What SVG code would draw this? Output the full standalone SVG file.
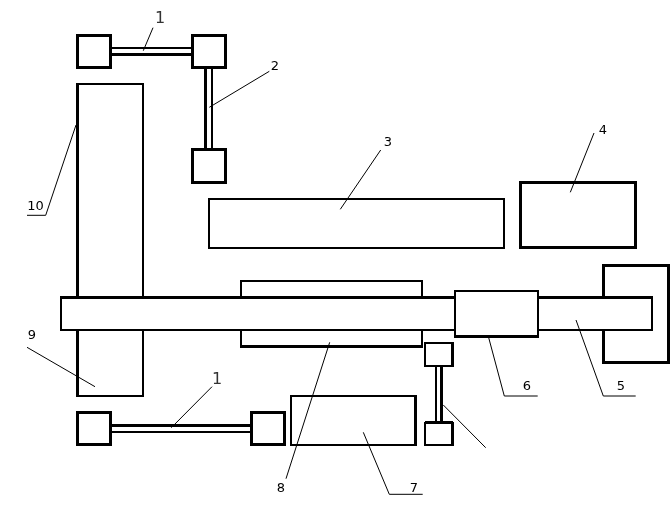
<svg xmlns="http://www.w3.org/2000/svg" width="672" height="519" viewBox="0 0 672 519">
<style>
rect{fill:#fff;stroke:#000;stroke-width:2;shape-rendering:crispEdges}
rect.t{stroke-width:3}
.e{stroke:#000;stroke-width:3;fill:none;shape-rendering:crispEdges}
.s{stroke:#000;stroke-width:2;fill:none;shape-rendering:crispEdges}
.l{stroke:#000;stroke-width:1;fill:none}
#labels{filter:url(#gray)}
text{font-family:"DejaVu Sans",sans-serif;font-size:13px;fill:#000;text-anchor:middle}
text.b{font-size:16px;fill:#333}
</style>
<defs><filter id="gray" x="0" y="0" width="672" height="519" filterUnits="userSpaceOnUse" color-interpolation-filters="sRGB"><feOffset dx="0" dy="0"/></filter></defs>
<rect width="672" height="519" style="stroke:none"/>
<g id="shaft-top"><path class="s" d="M111 48H191"/><path class="e" d="M111 54.500H191"/></g>
<g id="shaft-2"><path class="e" d="M205.500 68V149"/><path class="s" d="M211.500 68V149"/></g>
<g id="shaft-bottom"><path class="e" d="M111 425.500H251"/><path class="s" d="M111 432H251"/></g>
<g id="shaft-right"><path class="s" d="M436 366V423"/><path class="e" d="M441.500 366V423"/></g>
<g id="wheel-a"><rect class="t" x="77.500" y="35.500" width="33" height="32"/></g>
<g id="wheel-b"><rect class="t" x="192.500" y="35.500" width="33" height="32"/></g>
<g id="wheel-c"><rect class="t" x="192.500" y="149.500" width="33" height="33"/></g>
<g id="wheel-d"><rect class="t" x="77.500" y="412.500" width="33" height="32"/></g>
<g id="wheel-e"><rect class="t" x="251.500" y="412.500" width="33" height="32"/></g>
<g id="wheel-f"><rect x="425" y="343" width="28" height="23"/><path class="e" d="M452.500 343V366"/></g>
<g id="wheel-g"><rect x="425" y="423" width="28" height="22"/><path class="e" d="M425 422.500H453M452.500 423V445"/></g>
<g id="node-10"><rect x="77" y="84" width="66" height="312"/><path class="e" d="M77.500 84V396"/></g>
<g id="node-3"><rect x="209" y="199" width="295" height="49"/></g>
<g id="node-4"><rect class="t" x="520.500" y="182.500" width="115" height="65"/></g>
<g id="node-block"><rect class="t" x="603.500" y="265.500" width="65" height="97"/></g>
<g id="node-8"><rect x="241" y="281" width="181" height="66"/><path class="e" d="M241 346.500H422"/></g>
<g id="node-5"><rect x="61" y="297" width="591" height="33"/><path class="e" d="M61 297.500H652"/></g>
<g id="node-6"><rect x="455" y="291" width="83" height="46"/><path class="e" d="M455 336.500H538"/></g>
<g id="node-7"><rect x="291" y="396" width="125" height="49"/><path class="e" d="M415.500 396V445"/></g>
<g id="connectors">
<path class="l" d="M153 27.700L143.300 50.700"/>
<path class="l" d="M269.300 71.300L209.300 107.300"/>
<path class="l" d="M380.700 150L340.300 209.300"/>
<path class="l" d="M594 133L570.300 192.300"/>
<path class="l" d="M576 320L603.300 396H635.700"/>
<path class="l" d="M488.700 337.700L504.300 396H537.700"/>
<path class="l" d="M363.300 432.300L389.300 494.300H422.700"/>
<path class="l" d="M329.700 342.300L286 478.700"/>
<path class="l" d="M27 347.300L95 386.700"/>
<path class="l" d="M76 125L45.700 215.300H27"/>
<path class="l" d="M212 386.700L171.300 427.700"/>
<path class="l" d="M443.300 405L485.700 447.700"/>
</g>
<g id="labels">
<text class="b" x="160" y="23">1</text>
<text x="275" y="70">2</text>
<text x="388" y="146">3</text>
<text x="603" y="134">4</text>
<text x="621" y="390">5</text>
<text x="527" y="390">6</text>
<text x="414" y="492">7</text>
<text x="281" y="492">8</text>
<text x="32" y="339">9</text>
<text x="35.500" y="210">10</text>
<text class="b" x="217" y="384">1</text>
</g>
</svg>
